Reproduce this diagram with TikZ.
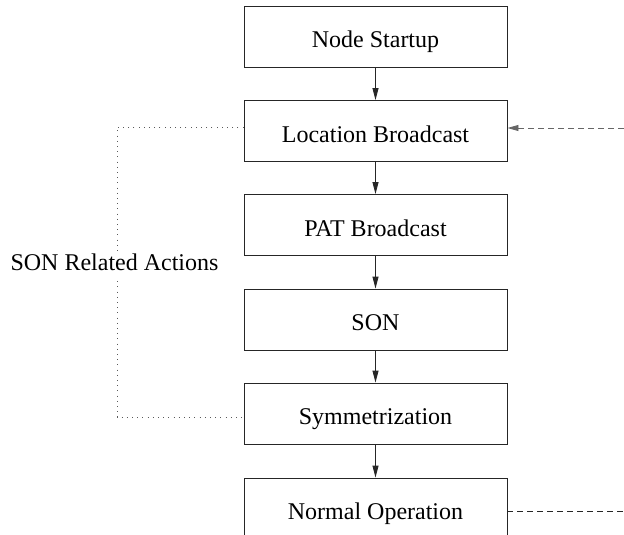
\documentclass[tikz,border=0pt]{standalone}
\usepackage{fontspec}
\setmainfont{Liberation Serif}
\usetikzlibrary{arrows.meta}
\begin{document}
\begin{tikzpicture}[x=1pt,y=-1pt,
  stepbox/.style={draw=black!85,line width=0.9pt,minimum width=263pt,minimum height=61pt,inner sep=0pt,text height=24pt,text depth=2pt,font=\fontsize{24}{28}\selectfont},
  flow/.style={draw=black!85,line width=0.9pt,-{Triangle[length=12pt,width=6pt]}},
  dotline/.style={draw=black!65,line width=1pt,dash pattern=on 1pt off 4.2pt},
  dashline/.style={line width=0.9pt,dash pattern=on 6pt off 4pt}]
\useasboundingbox (0,0) rectangle (624,535);
\clip (0,0) rectangle (624,535);
\node[stepbox] (ns) at (375.5,36.5) {Node Startup};
\node[stepbox] (lb) at (375.5,131) {Location Broadcast};
\node[stepbox] (pat) at (375.5,225) {PAT Broadcast};
\node[stepbox] (son) at (375.5,319.5) {SON};
\node[stepbox] (sym) at (375.5,413.5) {Symmetrization};
\node[stepbox] (no) at (375.5,508.5) {Normal Operation};
\draw[flow] (ns) -- (lb);
\draw[flow] (lb) -- (pat);
\draw[flow] (pat) -- (son);
\draw[flow] (son) -- (sym);
\draw[flow] (sym) -- (no);
\coordinate (tl) at (117,127);
\coordinate (bl) at (117,417);
\draw[dotline] (lb.west |- tl) -- (tl) -- (bl) -- (sym.west |- bl);
\node[fill=white,inner sep=2pt,text height=17pt,text depth=5pt,font=\fontsize{24}{28}\selectfont] (lab) at (114.5,264) {SON Related Actions};
\coordinate (r1) at (624,128);
\coordinate (r2) at (624,511);
\draw[dashline,draw=black!60,-{Triangle[length=11pt,width=6pt]}] (r1) -- (lb.east |- r1);
\draw[dashline,draw=black!85] (no.east |- r2) -- (r2);
\end{tikzpicture}
\end{document}
